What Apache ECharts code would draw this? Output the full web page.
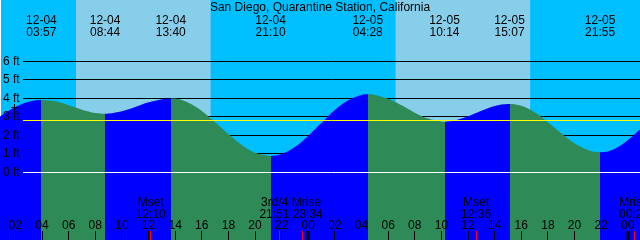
<!DOCTYPE html>
<html><head><meta charset="utf-8">
<script src="https://cdn.jsdelivr.net/npm/echarts@6/dist/echarts.min.js"></script>
<style>html,body{margin:0;padding:0;background:#fff}#c{width:640px;height:240px}</style>
</head><body><div id="c"></div>
<script>
// ---------------- data ----------------
const chartTitle = 'San Diego, Quarantine Station, California';
const viewStartClock = '00:55';          // first visible time on 12-04
const viewSpanHours = 48;

const tideDates   = ['12-04','12-04','12-04','12-04','12-05','12-05','12-05','12-05'];
const tideClocks  = ['03:57','08:44','13:40','21:10','04:28','10:14','15:07','21:55'];
const tideHeights = [3.91, 3.17, 4.00, 0.89, 4.22, 2.74, 3.70, 1.09];

// water level, hours after 12-04 00:00
const curveHours = [0,1,2,3,4,5,6,7,8,9,10,11,12,13,14,15,16,17,18,19,20,21,22,23,24,
                    25,26,27,28,29,30,31,32,33,34,35,36,37,38,39,40,41,42,43,44,45,46,47,48,49];
const curveFeet  = [2.60,3.10,3.53,3.82,3.91,3.84,3.63,3.39,3.21,3.18,3.31,3.54,3.79,3.96,3.99,3.76,3.32,2.71,2.07,1.48,1.06,0.90,0.99,1.37,1.98,
                    2.68,3.37,3.90,4.19,4.19,3.98,3.63,3.23,2.91,2.75,2.80,3.03,3.33,3.59,3.70,3.60,3.25,2.71,2.11,1.57,1.21,1.09,1.27,1.74,2.39];

const sunriseDates  = ['12-04','12-05'];
const sunriseClocks = ['06:33','06:33'];
const sunsetDates   = ['12-04','12-05'];
const sunsetClocks  = ['16:40','16:40'];

const moonNames  = ['Mset','3rd/4','Mrise','Mset','Mrise'];
const moonDates  = ['12-04','12-04','12-04','12-05','12-06'];
const moonClocks = ['12:10','21:51','23:34','12:36','00:28'];
const moonLabelGroups = [[0],[1,2],[3],[4]];

const tickHours  = [2,4,6,8,10,12,14,16,18,20,22,24,26,28,30,32,34,36,38,40,42,44,46,48];
const tickLabels = ['02','04','06','08','10','12','14','16','18','20','22','00','02','04','06','08','10','12','14','16','18','20','22','00'];
const yTickFeet  = [0,1,2,3,4,5,6];
const gridFeet   = [1,2,3,4,5,6];
const datumFeet  = 2.8;
const markTime   = '01:58';
const markFeet   = 3.52;

// ---------------- helpers ----------------
const FONT = '"Liberation Sans", Arial, sans-serif';
function toHours(date, clock) {
  const day = parseInt(date.split('-')[1], 10) - 4;
  const [h, m] = clock.split(':').map(Number);
  return day * 24 + h + m / 60;
}
const viewStart = toHours('12-04', viewStartClock);
const viewEnd = viewStart + viewSpanHours;
const tideHours = tideDates.map((d, i) => toHours(d, tideClocks[i]));
const moonHours = moonDates.map((d, i) => toHours(d, moonClocks[i]));
const dayPeriods = sunriseDates.map((d, i) => [toHours(d, sunriseClocks[i]), toHours(sunsetDates[i], sunsetClocks[i])]);

const curve = curveHours.map((t, i) => [t, curveFeet[i]])
  .concat(tideHours.map((t, i) => [t, tideHeights[i]]))
  .sort((a, b) => a[0] - b[0]);

const RISE = '#0000FF', FALL = '#2E8B57';
const pieces = [];
pieces.push({ lt: tideHours[0], color: tideHeights[0] > tideHeights[1] ? RISE : FALL });
for (let i = 0; i < tideHours.length - 1; i++) {
  pieces.push({ gte: tideHours[i], lt: tideHours[i + 1], color: tideHeights[i + 1] > tideHeights[i] ? RISE : FALL });
}
const nLast = tideHours.length - 1;
pieces.push({ gte: tideHours[nLast], color: tideHeights[nLast] < tideHeights[nLast - 1] ? RISE : FALL });

// vertical scale: 18.5 px per foot, 0 ft at 172.4 px of a 240 px plot
const PX_PER_FT = 18.5, ZERO_PX = 172.4, H = 240;
const yMax = ZERO_PX / PX_PER_FT;
const yMin = -(H - ZERO_PX) / PX_PER_FT;
const GUTTER = 22;
const TICK_LEN = 9;

function txt(x, y, s, align) {
  return { type: 'text', x: x, y: y, style: { text: s, fill: '#000', fontSize: 12, fontFamily: FONT, align: align || 'center', verticalAlign: 'middle' } };
}

// tick marks: 0 = hour tick, 1 = midnight tick, 2 = moon event
const tickMarks = tickHours.map(h => [h, 0])
  .concat(tickHours.filter(h => h % 24 === 0).map(h => [h, 1]))
  .concat(moonHours.map(t => [t, 2]));

const chart = echarts.init(document.getElementById('c'), null, { renderer: 'canvas' });
chart.setOption({
  animation: false,
  title: { text: chartTitle, left: 'center', top: 2, padding: 0,
           textStyle: { fontSize: 12, fontWeight: 'normal', color: '#000', fontFamily: FONT } },
  grid: { left: 0, right: 0, top: 0, bottom: 0, show: true, backgroundColor: '#00BFFF', borderWidth: 0 },
  xAxis: {
    type: 'value', min: viewStart, max: viewEnd, z: 10, position: 'bottom',
    axisLine: { show: false, onZero: false }, splitLine: { show: false },
    axisTick: { show: false },
    axisLabel: { show: true, inside: true, margin: 8, customValues: tickHours,
                 formatter: v => tickLabels[tickHours.indexOf(Math.round(v))],
                 color: '#000', fontSize: 12, fontFamily: FONT }
  },
  yAxis: {
    type: 'value', min: yMin, max: yMax, z: 10,
    axisLine: { show: false, onZero: false }, axisTick: { show: false }, splitLine: { show: false },
    axisLabel: { inside: true, margin: 2, customValues: yTickFeet, formatter: v => v + ' ft',
                 color: '#000', fontSize: 12, fontFamily: FONT }
  },
  visualMap: { type: 'piecewise', show: false, dimension: 0, seriesIndex: 2, pieces: pieces },
  series: [
    { // daylight sky
      type: 'custom', z: 1, silent: true, data: dayPeriods,
      renderItem: (params, api) => {
        const cs = params.coordSys;
        const a = api.coord([api.value(0), 0])[0];
        const b = api.coord([api.value(1), 0])[0];
        return { type: 'rect', shape: { x: a, y: cs.y, width: b - a, height: cs.height }, style: { fill: '#87CEEB' } };
      }
    },
    { // foot grid lines
      type: 'custom', z: 2, silent: true, data: gridFeet.map(v => [viewStart, v]),
      renderItem: (params, api) => {
        const cs = params.coordSys;
        const y = Math.floor(api.coord([viewStart, api.value(1)])[1]) + 0.5;
        return { type: 'line', shape: { x1: cs.x + GUTTER, y1: y, x2: cs.x + cs.width, y2: y }, style: { stroke: '#000', lineWidth: 1 } };
      }
    },
    { // water
      type: 'line', z: 3, silent: true, data: curve, symbol: 'none', showSymbol: false, smooth: 0.35,
      lineStyle: { width: 1, opacity: 0 }, areaStyle: { opacity: 1, origin: 'start' }
    },
    { // datum (yellow) and zero (white) lines
      type: 'custom', z: 4, silent: true, data: [[viewStart, datumFeet], [viewStart, 0]],
      renderItem: (params, api) => {
        const cs = params.coordSys;
        const y = Math.floor(api.coord([viewStart, api.value(1)])[1]) + 0.5;
        return { type: 'line', shape: { x1: cs.x + GUTTER, y1: y, x2: cs.x + cs.width, y2: y },
                 style: { stroke: params.dataIndex === 0 ? '#FFFF00' : '#FFFFFF', lineWidth: 1 } };
      }
    },
    { // cross mark
      type: 'custom', z: 5, silent: true, data: [[toHours('12-04', markTime), markFeet]],
      renderItem: (params, api) => {
        const p = api.coord([api.value(0), api.value(1)]);
        const x = Math.floor(p[0]) + 0.5, y = Math.floor(p[1]) + 0.5;
        return { type: 'group', children: [
          { type: 'line', shape: { x1: x - 3.5, y1: y, x2: x + 3.5, y2: y }, style: { stroke: '#000', lineWidth: 1 } },
          { type: 'line', shape: { x1: x, y1: y - 3.5, x2: x, y2: y + 3.5 }, style: { stroke: '#000', lineWidth: 1 } }
        ] };
      }
    },
    { // tide time labels on top
      type: 'custom', z: 6, silent: true, data: tideHours.map((t, i) => [t, tideHeights[i]]),
      renderItem: (params, api) => {
        const x = api.coord([api.value(0), 0])[0];
        const i = params.dataIndex;
        return { type: 'group', children: [ txt(x, 21, tideDates[i]), txt(x, 33, tideClocks[i]) ] };
      }
    },
    { // hour ticks, midnight ticks and moon event ticks
      type: 'custom', z: 6, silent: true, data: tickMarks,
      renderItem: (params, api) => {
        const cs = params.coordSys;
        const x = api.coord([api.value(0), 0])[0];
        const bottom = cs.y + cs.height;
        const kind = api.value(1);
        if (kind === 1) {
          return { type: 'rect', shape: { x: Math.round(x) - 1.5, y: bottom - TICK_LEN, width: 3, height: TICK_LEN }, style: { fill: '#000' } };
        }
        const xx = Math.floor(x) + 0.5;
        return { type: 'line', shape: { x1: xx, y1: bottom - TICK_LEN, x2: xx, y2: bottom },
                 style: { stroke: kind === 2 ? '#FF0000' : '#000000', lineWidth: 1 } };
      }
    },
    { // moon labels
      type: 'custom', z: 6, silent: true,
      data: moonLabelGroups.map(g => [g.reduce((s, k) => s + moonHours[k], 0) / g.length, 0]),
      renderItem: (params, api) => {
        const cs = params.coordSys;
        const x = api.coord([api.value(0), 0])[0];
        const g = moonLabelGroups[params.dataIndex];
        const bottom = cs.y + cs.height;
        return { type: 'group', children: [
          txt(x, bottom - 37, g.map(k => moonNames[k]).join(' ')),
          txt(x, bottom - 25, g.map(k => moonClocks[k]).join(' '))
        ] };
      }
    }
  ]
});
</script>
</body></html>
